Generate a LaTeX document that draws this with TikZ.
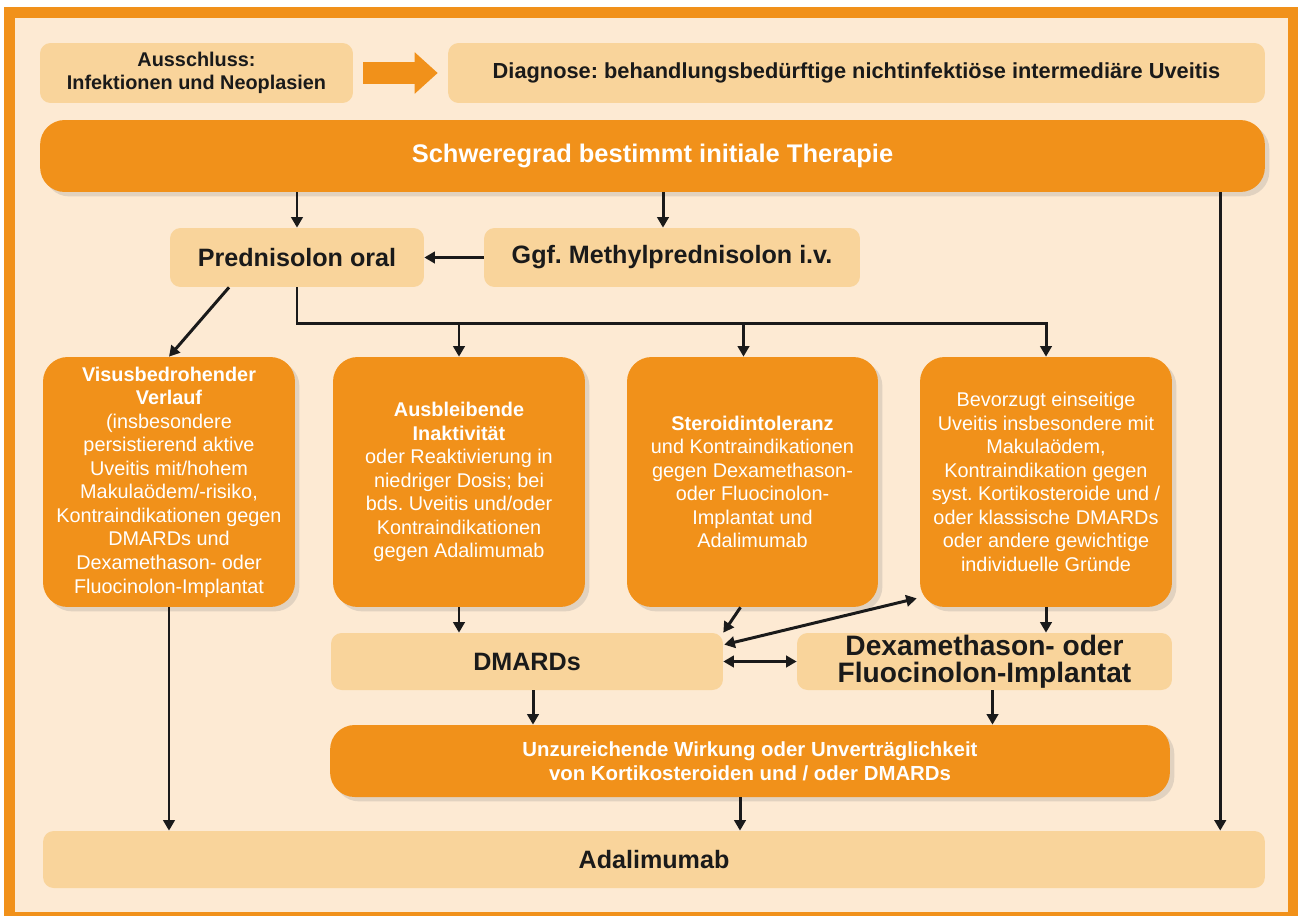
\documentclass[tikz,border=0pt]{standalone}
\usepackage{fontspec}
\setmainfont{Liberation Sans}
\usepackage{xcolor}
\definecolor{uvOrange}{HTML}{F1911A}
\definecolor{uvLight}{HTML}{F9D49B}
\definecolor{uvCream}{HTML}{FDEAD3}
\definecolor{uvText}{HTML}{1A1A1A}
\usetikzlibrary{arrows.meta, positioning, calc, shadows}
\frenchspacing

\begin{document}
\begin{tikzpicture}[
		x=0.02cm, y=-0.02cm,
		lightbox/.style={
			fill=uvLight,
			rounded corners=6pt,
			inner sep=0pt,
			align=center,
			text=uvText,
			font=\fontsize{14.3}{17}\selectfont\bfseries
		},
		orangebox/.style={
			fill=uvOrange,
			rounded corners=14pt,
			inner sep=0pt,
			align=center,
			text=white,
			font=\fontsize{11.3}{13.4}\selectfont,
			drop shadow={opacity=0.22, shadow xshift=2.5pt, shadow yshift=-2.5pt}
		},
		arrow/.style={-{Triangle[length=6pt, width=6.5pt]}, line width=1.7pt, draw=uvText},
		twoway/.style={{Triangle[length=6pt, width=6.5pt]}-{Triangle[length=6pt, width=6.5pt]}, line width=1.7pt, draw=uvText}
		]
		
		\useasboundingbox (0,0) rectangle (1298,916);
		\fill[uvOrange] (4,7) rectangle (1298,916);
		\fill[uvCream] (15,18) rectangle (1288,912);
		
		\node[lightbox, minimum width=6.26cm, minimum height=1.2cm, font=\fontsize{11.3}{13.1}\selectfont\bfseries] (ausschluss) at (196.5,73) {Ausschluss:\\Infektionen und Neoplasien};
		\node[lightbox, minimum width=16.34cm, minimum height=1.2cm, font=\fontsize{12.4}{14}\selectfont\bfseries] (diagnose) at (856.5,73) {Diagnose: behandlungsbedürftige nichtinfektiöse intermediäre Uveitis};
		\node[orangebox, minimum width=24.5cm, minimum height=1.44cm, font=\fontsize{14.5}{17}\selectfont\bfseries] (schwer) at (652.5,156) {Schweregrad bestimmt initiale Therapie};
		
		\node[lightbox, minimum width=5.08cm, minimum height=1.18cm] (pred) at (297,257.5) {Prednisolon oral};
		\node[lightbox, minimum width=7.52cm, minimum height=1.18cm] (methyl) at (672,257.5) {Ggf. Methylprednisolon i.v.};
		
		\node[orangebox, minimum width=5.04cm, minimum height=5cm] (visus) at (169,482) {\textbf{Visusbedrohender}\\\textbf{Verlauf}\\(insbesondere\\persistierend aktive\\Uveitis mit/hohem\\Makulaödem/-risiko,\\Kontraindikationen gegen\\DMARDs und\\Dexamethason- oder\\Fluocinolon-Implantat};
		\node[orangebox, minimum width=5.04cm, minimum height=5cm] (ausbleibend) at (459,482) {\textbf{Ausbleibende}\\\textbf{Inaktivität}\\oder Reaktivierung in\\niedriger Dosis; bei\\bds. Uveitis und/oder\\Kontraindikationen\\gegen Adalimumab};
		\node[orangebox, minimum width=5.02cm, minimum height=5cm] (steroid) at (752.5,482) {\textbf{Steroidintoleranz}\\und Kontraindikationen\\gegen Dexamethason-\\oder Fluocinolon-\\Implantat und\\Adalimumab};
		\node[orangebox, minimum width=5.04cm, minimum height=5cm] (bevorzugt) at (1046,482) {Bevorzugt einseitige\\Uveitis insbesondere mit\\Makulaödem,\\Kontraindikation gegen\\syst. Kortikosteroide und /\\oder klassische DMARDs\\oder andere gewichtige\\individuelle Gründe};
		
		\node[lightbox, minimum width=7.84cm, minimum height=1.14cm] (dmards) at (527,661.5) {DMARDs};
		\node[lightbox, minimum width=7.5cm, minimum height=1.14cm, font=\fontsize{16}{15.5}\selectfont\bfseries] (implantat) at (984.5,661.5) {Dexamethason- oder\\Fluocinolon-Implantat};
		
		\node[orangebox, minimum width=16.8cm, minimum height=1.44cm, font=\fontsize{11.6}{13.6}\selectfont\bfseries] (unz) at (750,761) {Unzureichende Wirkung oder Unverträglichkeit\\von Kortikosteroiden und / oder DMARDs};
		
		\node[lightbox, minimum width=24.44cm, minimum height=1.14cm] (adalimumab) at (654,859.5) {Adalimumab};
		
		\draw[uvOrange, line width=0.46cm, -{Triangle[length=0.46cm, width=0.8cm]}, shorten <=0.2cm, shorten >=0.2cm] (ausschluss) -- (diagnose);
		
		\draw[arrow] (schwer.south -| pred) -- (pred);
		\draw[arrow] ($(schwer.south -| methyl)+(-9,0)$) -- ($(methyl.north)+(-9,0)$);
		\draw[arrow] (methyl) -- (pred);
		\coordinate (rightdrop) at ($(schwer.south east)+(-45,0)$);
		\draw[arrow] (rightdrop) -- (rightdrop |- adalimumab.north);
		
		\draw[arrow] ($(pred.south)+(-68,0)$) -- (visus.north);
		\coordinate (split) at ($(pred.south)+(0,36)$);
		\draw[arrow] (pred.south) |- (bevorzugt.north |- split) -- (bevorzugt.north);
		\draw[arrow] (ausbleibend.north |- split) -- (ausbleibend.north);
		\draw[arrow] ($(steroid.north |- split)+(-9,0)$) -- ($(steroid.north)+(-9,0)$);
		
		\draw[arrow] (visus.south) -- (visus.south |- adalimumab.north);
		\draw[arrow] (ausbleibend.south) -- (ausbleibend.south |- dmards.north);
		\draw[arrow] ($(steroid.south)+(-12,0)$) -- (dmards.north east);
		\draw[twoway] ($(dmards.north east)+(1,12)$) -- ($(bevorzugt.south west)+(-3,-9)$);
		\draw[twoway] (dmards) -- (implantat);
		\draw[arrow] (bevorzugt.south) -- (bevorzugt.south |- implantat.north);
		
		\draw[arrow] ($(dmards.south)+(6,0)$) -- ($(dmards.south |- unz.north)+(6,0)$);
		\draw[arrow] ($(implantat.south)+(8,0)$) -- ($(implantat.south |- unz.north)+(8,0)$);
		\draw[arrow] ($(unz.south)+(-10,0)$) -- ($(unz.south |- adalimumab.north)+(-10,0)$);
		
	\end{tikzpicture}
\end{document}
